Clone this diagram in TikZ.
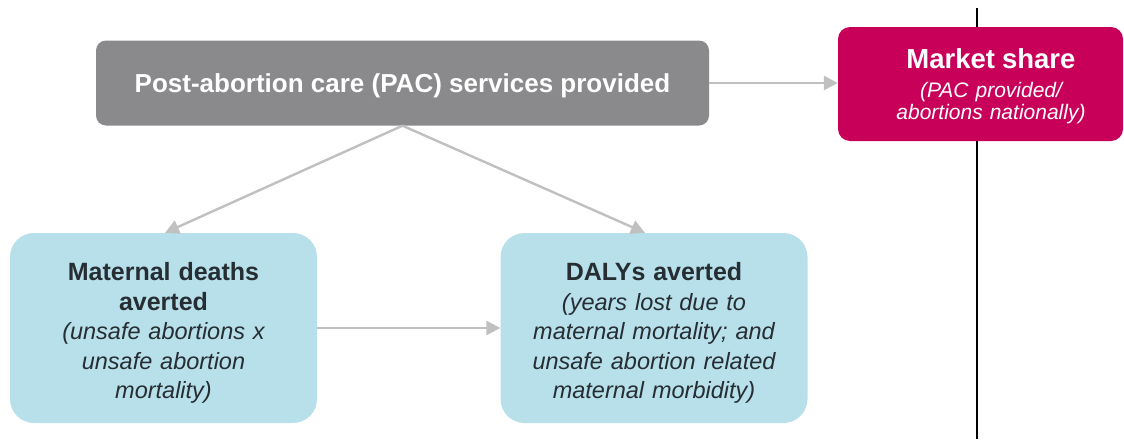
\documentclass[tikz,border=0pt]{standalone}
\usepackage{fontspec}
\setmainfont{Liberation Sans}
\usetikzlibrary{arrows.meta}
\definecolor{pacgrey}{RGB}{138,138,140}
\definecolor{mktred}{RGB}{200,0,90}
\definecolor{boxblue}{RGB}{183,224,234}
\definecolor{arrgrey}{RGB}{192,192,192}
\definecolor{darktext}{RGB}{38,45,51}
\tikzset{
  pacbox/.style={fill=pacgrey, rounded corners=10pt, text=white, inner sep=0pt,
    minimum width=613pt, minimum height=85pt,
    font=\fontsize{26}{30}\selectfont\bfseries, text height=18.5pt, text depth=0pt},
  mktbox/.style={fill=mktred, rounded corners=12pt, text=white, inner sep=0pt,
    minimum width=285pt, minimum height=114pt, text width=265pt, align=center,
    font=\fontsize{21}{22.5}\selectfont\itshape, text height=24pt, text depth=56pt},
  bluebox/.style={fill=boxblue, rounded corners=24pt, text=darktext, inner sep=0pt,
    minimum width=307pt, minimum height=190pt, text width=290pt, align=center,
    font=\fontsize{23.5}{29.5}\selectfont, text height=28pt, text depth=123pt},
  arr/.style={draw=arrgrey, line width=2.4pt, -{Triangle[length=14pt,width=14pt]}},
  divider/.style={draw=black, line width=1.6pt}
}
\begin{document}
\begin{tikzpicture}[x=1pt, y=-1pt]
\useasboundingbox (0,0) rectangle (1124,439);
% divider line
\coordinate (divtop) at (977,8);
\coordinate (divbot) at (977,439);
\draw[divider] (divtop) -- (divbot);
% boxes
\node[pacbox] (pac) at (402.5,83) {Post-abortion care (PAC) services provided};
\node[mktbox] (mkt) at (980.5,84)
  {\hspace*{21pt}{\fontsize{27.5}{22.5}\selectfont\bfseries\upshape Market share}\\[6.5pt]
   \hspace*{21pt}(PAC provided/\\
   \hspace*{21pt}abortions nationally)};
\node[bluebox] (mat) at (163.5,328)
  {{\fontsize{25}{29.5}\selectfont\bfseries Maternal deaths\\ averted}\\
   \itshape (unsafe abortions x\\ unsafe abortion\\ mortality)};
\node[bluebox] (dal) at (654,328)
  {{\fontsize{25}{29.5}\selectfont\bfseries DALYs averted}\\
   \itshape (years lost due to\\ maternal mortality; and\\ unsafe abortion related\\ maternal morbidity)};
% connectors
\draw[arr] (pac.east) -- (pac.east -| mkt.west);
\draw[arr] (pac.south) -- ([xshift=1.5pt]mat.north);
\draw[arr] (pac.south) -- ([xshift=-9pt]dal.north);
\draw[arr] (mat.east) -- (dal.west);
\end{tikzpicture}
\end{document}
